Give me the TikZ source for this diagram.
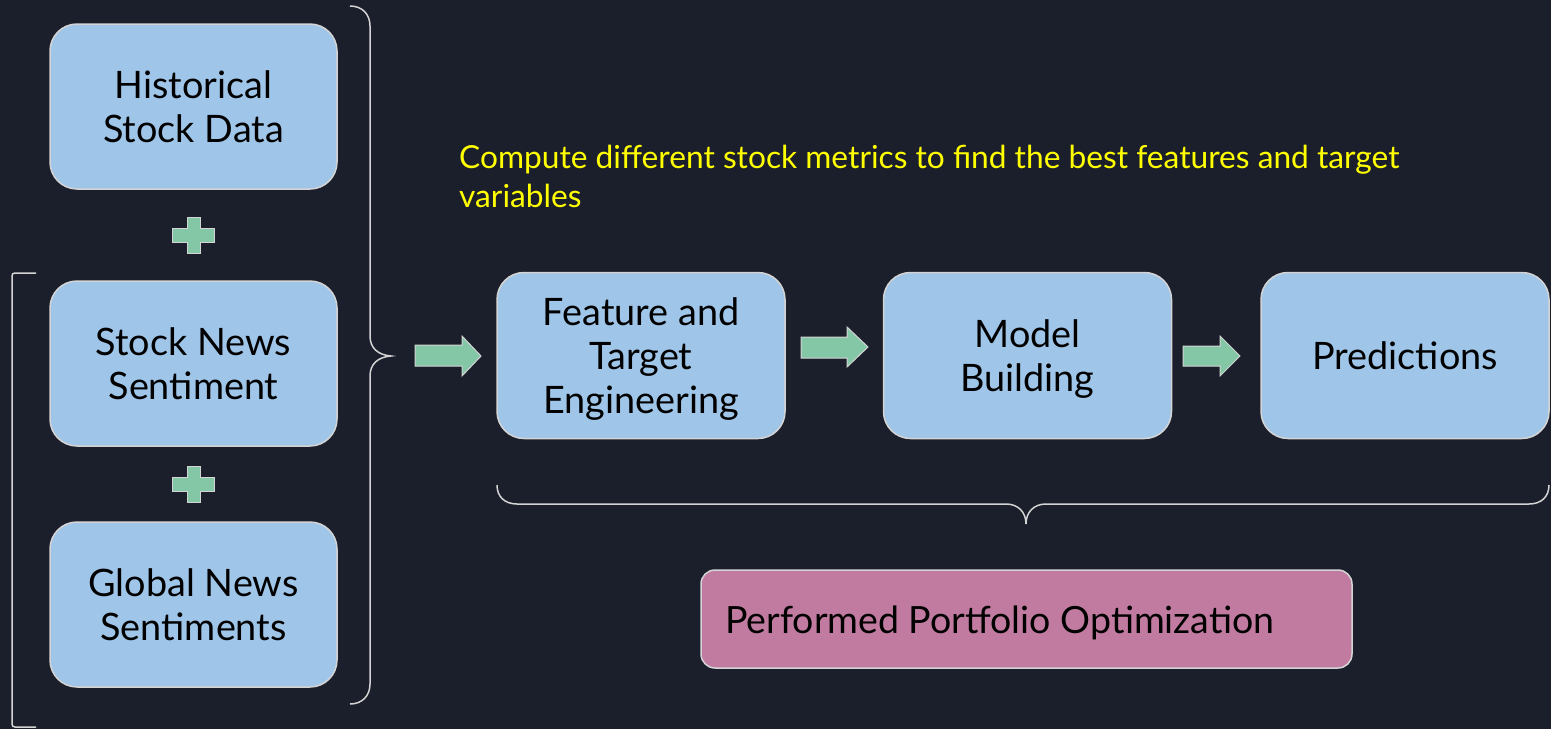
\documentclass[tikz,border=0pt]{standalone}
\usepackage{fontspec}
\setmainfont{Lato}
\definecolor{bgc}{HTML}{1B1F2B}
\definecolor{boxblue}{HTML}{9FC5E8}
\definecolor{edgec}{HTML}{D4D4D4}
\definecolor{greenc}{HTML}{84C7A6}
\definecolor{pinkc}{HTML}{C27BA0}
\definecolor{yellowc}{HTML}{FFFF00}
\begin{document}
\begin{tikzpicture}[x=1pt,y=-1pt,
  bluebox/.style={rectangle, rounded corners=27pt, fill=boxblue, draw=edgec, line width=1.5pt,
    minimum width=287pt, minimum height=165pt, align=center, inner sep=0pt, text depth=0pt,
    font=\fontsize{37.8}{43.8}\selectfont, text=black},
  pinkbox/.style={rectangle, rounded corners=14pt, fill=pinkc, draw=edgec, line width=1.5pt,
    minimum width=651pt, minimum height=98pt, inner sep=0pt},
  blockarrow/.style={fill=greenc, draw=edgec, line width=1pt},
  bracestyle/.style={draw=edgec, line width=1.5pt},
]
\fill[bgc] (0,0) rectangle (1551,729);
\useasboundingbox (0,0) rectangle (1551,729);

% left column
\node[bluebox] (hist) at (193.5,106.5) {Historical\\Stock Data};
\node[bluebox] (snews) at (193.5,363.5) {Stock News\\Sentiment};
\node[bluebox] (gnews) at (193.5,604.5) {Global News\\Sentiments};

% plus signs
\foreach \cy in {235,484}{
  \draw[blockarrow] (187,\cy-18) -- (200,\cy-18) -- (200,\cy-7) -- (214,\cy-7) -- (214,\cy+7)
    -- (200,\cy+7) -- (200,\cy+18) -- (187,\cy+18) -- (187,\cy+7) -- (172,\cy+7) -- (172,\cy-7)
    -- (187,\cy-7) -- cycle;
}

% right brace
\draw[bracestyle] (350,6) .. controls (362,6) and (370,14) .. (370,26) -- (370,336)
  .. controls (370,348) and (378,355) .. (391,356)
  .. controls (378,357) and (370,364) .. (370,376) -- (370,684)
  .. controls (370,696) and (362,704) .. (350,704);

% left bracket
\draw[bracestyle] (36,273) -- (15,273) .. controls (13,273) and (12,274) .. (12,276) -- (12,724)
  .. controls (12,726) and (13,727) .. (15,727) -- (36,727);

% pipeline
\node[bluebox, minimum width=288pt, minimum height=166pt] (feat) at (641,355.5) {Feature and\\Target\\Engineering};
\node[bluebox, minimum width=288pt, minimum height=166pt] (model) at (1027.5,355.5) {Model\\Building};
\node[bluebox, minimum width=288pt, minimum height=166pt] (pred) at (1405,355.5) {Predictions};

% block arrows
\draw[blockarrow] (415,345) -- (462,345) -- (462,336) -- (481,356) -- (462,376) -- (462,366) -- (415,366) -- cycle;
\draw[blockarrow] (801,337) -- (847,337) -- (847,327) -- (868,347) -- (847,367) -- (847,358) -- (801,358) -- cycle;
\draw[blockarrow] (1183,346) -- (1220,346) -- (1220,336) -- (1240,356) -- (1220,376) -- (1220,366) -- (1183,366) -- cycle;

% yellow note
\node[anchor=base west, align=left, inner sep=0pt, text=yellowc, font=\fontsize{31.7}{38.5}\selectfont]
  (note) at (459,207) {Compute different stock metrics to find the best features and target\\variables};

% bottom brace
\draw[bracestyle] (497,485) .. controls (497,497) and (505,504) .. (517,504) -- (1006,504)
  .. controls (1018,504) and (1026,512) .. (1026,524)
  .. controls (1026,512) and (1034,504) .. (1046,504) -- (1529,504)
  .. controls (1541,504) and (1549,497) .. (1549,485);

% portfolio box
\node[pinkbox] (port) at (1026.5,619) {};
\node[anchor=west, inner sep=0pt, font=\fontsize{37.5}{42}\selectfont, text=black] (porttext) at (725,623) {Performed Portfolio Optimization};
\end{tikzpicture}
\end{document}
